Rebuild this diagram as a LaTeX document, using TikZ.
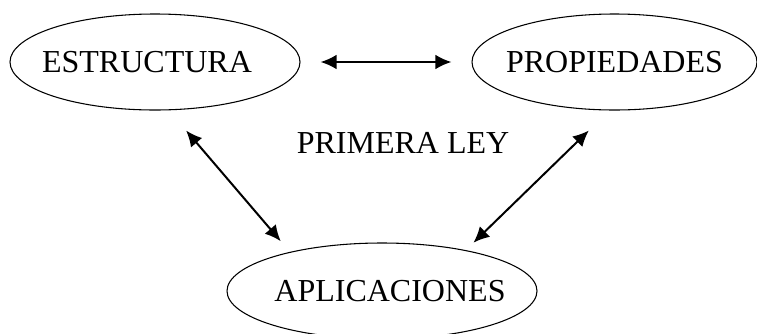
\documentclass[tikz,border=0pt]{standalone}
\usepackage{fontspec}
\setmainfont{Liberation Serif}
\usetikzlibrary{shapes.geometric,arrows.meta}

\begin{document}
\begin{tikzpicture}[x=0.75pt,y=0.75pt,yscale=-1,xscale=1,
  ovalo/.style={draw,ellipse,line width=0.8pt,inner sep=0pt,minimum height=72pt,font=\fontsize{24}{28}\selectfont},
  flecha/.style={{Latex[length=12pt,width=11pt]}-{Latex[length=12pt,width=11pt]},line width=1.5pt}]
\useasboundingbox (0,0) rectangle (757,333);
\clip (0,0) rectangle (757,333);

%Shape: Ellipse
\node[ovalo,minimum width=217.5pt] (est) at (155,62) {\makebox[0pt]{\hspace*{-12pt}ESTRUCTURA}};
%Shape: Ellipse
\node[ovalo,minimum width=213.75pt] (prop) at (614.5,62) {\makebox[0pt]{PROPIEDADES}};
%Shape: Ellipse
\node[ovalo,minimum width=232.5pt] (apl) at (382,291) {\makebox[0pt]{\hspace*{12pt}APLICACIONES}};

% Text Node
\node[font=\fontsize{24}{28}\selectfont] (ley) at (403,143) {PRIMERA LEY};

%Straight Lines
\draw[flecha,shorten <=15pt,shorten >=15pt] (est.east) -- (prop.west) ;
%Straight Lines
\draw[flecha,shorten <=19.9pt,shorten >=10.5pt] (est.-74.9) -- (apl.157.6) ;
%Straight Lines
\draw[flecha,shorten <=21.5pt,shorten >=7.9pt] (prop.-96.7) -- (apl.26.2) ;

\end{tikzpicture}
\end{document}
